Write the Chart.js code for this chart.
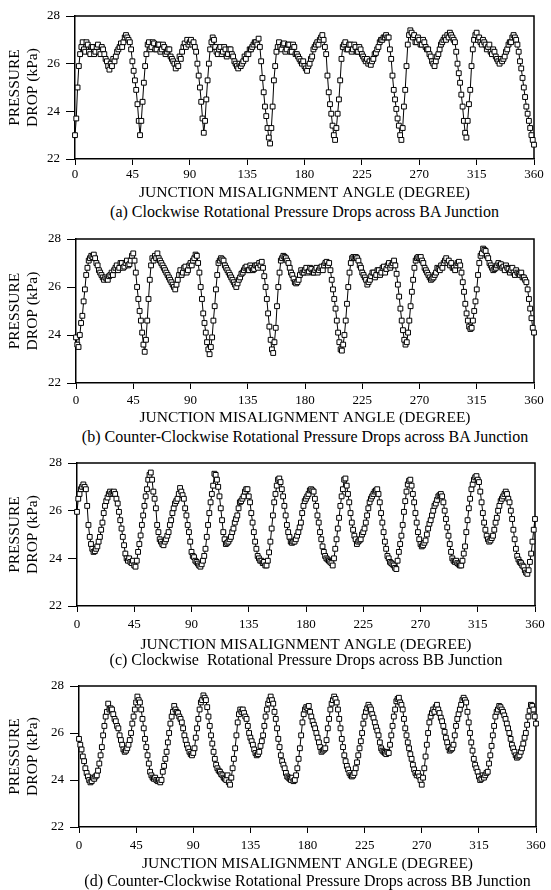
<!DOCTYPE html>
<html>
<head>
    <title>Rotational Pressure Drops across Junctions</title>
    <script src="https://cdn.jsdelivr.net/npm/chart.js"></script>
    <style>
        body {
            margin: 0;
            background: #fff;
            font-family: "Liberation Serif", "Times New Roman", serif;
        }
        .page {
            position: relative;
            width: 551px;
            height: 890px;
        }
        .page canvas {
            position: absolute;
            left: 0;
        }
        .caption {
            position: absolute;
            text-align: center;
            font-size: 16px;
            line-height: 18px;
            white-space: pre;
            color: #000;
        }
    </style>
</head>
<body>
    <div class="page" id="page"></div>

    <script>
        // misalignment angle, one reading per degree (0..360)
        const degrees = Array.from({ length: 361 }, (_, i) => i);

        // (a) clockwise, BA junction (kPa)
        const dropA = [
            23.0,23.7,25.0,25.9,26.4,26.7,26.9,26.6,26.5,26.9, 26.8,26.5,26.4,26.7,26.7,26.4,26.5,26.7,26.8,26.5,
            26.4,26.7,26.6,26.4,26.2,26.1,25.9,25.75,26.0,25.9, 26.2,26.1,26.3,26.5,26.6,26.7,26.85,26.7,26.9,27.1,
            27.2,27.1,27.0,26.9,26.6,26.1,25.7,25.3,24.9,24.3, 23.6,23.0,23.6,24.4,25.2,25.9,26.4,26.8,26.9,26.6,
            26.7,26.9,26.85,26.6,26.6,26.8,26.8,26.5,26.6,26.8, 26.7,26.4,26.5,26.6,26.6,26.3,26.2,26.1,26.0,25.8,
            26.0,25.9,26.3,26.2,26.5,26.7,26.85,26.7,27.0,26.8, 26.9,27.0,26.8,26.9,26.7,26.5,26.0,25.5,25.0,24.4,
            23.7,23.1,23.6,24.5,25.3,26.0,26.6,26.9,27.1,27.0, 26.7,26.5,26.4,26.6,26.7,26.4,26.5,26.7,26.6,26.3,
            26.4,26.6,26.6,26.4,26.3,26.1,26.0,25.9,25.8,26.0, 25.9,26.0,26.1,26.3,26.2,26.4,26.4,26.6,26.6,26.7,
            26.8,26.9,26.9,26.8,27.05,26.7,26.1,25.4,24.8,24.2, 23.8,23.3,22.9,22.65,23.3,24.2,25.3,25.9,26.5,26.7,
            26.9,26.7,26.6,26.8,26.85,26.5,26.6,26.8,26.8,26.5, 26.5,26.8,26.7,26.4,26.4,26.3,26.2,26.1,26.0,26.1,
            25.9,25.8,25.7,25.9,26.0,26.2,26.3,26.6,26.7,26.8, 26.9,26.8,27.0,27.1,27.2,27.0,26.7,26.4,25.5,24.8,
            24.3,23.9,23.4,23.0,22.8,23.3,23.9,24.5,25.3,26.2, 26.7,26.8,26.9,26.6,26.6,26.8,26.8,26.5,26.6,26.8,
            26.7,26.5,26.5,26.7,26.6,26.4,26.3,26.2,26.1,26.2, 26.0,26.1,25.95,26.1,26.2,26.4,26.45,26.6,26.7,26.9,
            27.0,27.0,27.1,27.1,27.2,27.1,27.1,26.6,26.2,25.5, 24.9,24.5,24.1,23.7,23.4,23.0,22.8,23.3,24.2,24.9,
            25.9,26.8,27.2,27.4,27.3,27.1,27.2,26.9,26.9,27.1, 27.0,26.8,26.8,27.0,26.9,26.7,26.6,26.6,26.4,26.3,
            26.1,26.0,25.9,26.1,26.3,26.4,26.6,26.8,26.9,27.0, 27.1,27.0,27.2,27.1,27.3,27.2,27.1,27.0,26.9,26.5,
            26.0,25.6,25.2,24.7,24.2,23.6,23.1,22.9,23.6,24.3, 24.9,25.9,26.6,27.0,27.2,27.3,27.0,27.1,26.9,26.8,
            27.0,26.9,26.8,26.6,26.7,26.8,26.5,26.4,26.6,26.5, 26.3,26.2,26.1,26.0,26.2,26.1,26.2,26.3,26.5,26.6,
            26.8,26.9,26.9,27.1,27.2,27.1,27.0,26.8,26.5,26.1, 25.8,25.4,25.0,24.6,24.2,23.9,23.6,23.3,23.0,22.8,
            22.6];

        // (b) counter-clockwise, BA junction (kPa)
        const dropB = [
            23.9,23.6,23.5,24.0,24.5,24.8,25.4,25.9,26.5,26.8, 27.1,27.2,27.3,27.25,27.35,27.2,27.0,26.9,26.7,26.6,
            26.5,26.4,26.3,26.4,26.35,26.3,26.45,26.5,26.6,26.5, 26.7,26.8,26.9,26.7,26.8,27.0,27.0,26.8,26.85,27.0,
            27.1,26.9,26.95,27.1,27.3,27.4,27.1,26.6,26.0,25.5, 25.0,24.6,24.1,23.6,23.3,23.8,24.6,25.5,26.3,26.9,
            27.2,27.1,27.3,27.2,27.4,27.2,27.1,27.0,26.9,26.8, 26.7,26.6,26.5,26.4,26.3,26.2,26.1,26.0,25.9,26.1,
            26.3,26.5,26.7,26.5,26.6,26.8,26.85,26.6,26.7,26.9, 27.0,26.9,27.1,27.2,27.35,27.3,27.0,26.6,26.0,25.5,
            24.9,24.5,24.1,23.7,23.4,23.2,23.5,23.9,24.6,25.2, 25.9,26.5,27.0,27.1,27.2,27.15,27.1,26.9,26.8,26.7,
            26.6,26.5,26.4,26.3,26.2,26.1,26.0,26.15,26.3,26.4, 26.55,26.6,26.7,26.8,26.85,26.7,26.7,26.9,26.8,26.7,
            26.75,26.9,26.9,26.8,27.0,26.9,27.05,26.8,26.45,26.0, 25.5,24.9,24.35,23.8,23.4,23.25,23.7,24.3,25.2,26.0,
            26.6,27.1,27.2,27.3,27.25,27.2,27.1,27.0,26.8,26.6, 26.5,26.35,26.2,26.15,26.2,26.3,26.5,26.7,26.6,26.6,
            26.7,26.8,26.6,26.65,26.8,26.75,26.6,26.6,26.7,26.8, 26.6,26.7,26.8,26.85,26.7,26.9,27.0,27.05,26.9,27.0,
            26.7,26.3,25.9,25.5,25.1,24.6,24.1,23.7,23.4,23.35, 23.6,24.0,24.6,25.3,26.0,26.6,27.0,27.2,27.25,27.2,
            27.25,27.2,27.1,26.9,26.8,26.6,26.5,26.4,26.3,26.1, 26.2,26.3,26.45,26.6,26.6,26.4,26.5,26.7,26.7,26.5,
            26.6,26.8,26.85,26.6,26.75,26.9,27.0,26.8,26.9,27.0, 27.1,26.9,26.55,26.1,25.6,25.1,24.6,24.2,23.8,23.6,
            23.7,24.1,24.6,25.2,25.8,26.3,26.8,27.1,27.2,27.25, 27.2,27.25,27.1,27.0,26.8,26.7,26.6,26.5,26.4,26.3,
            26.35,26.4,26.5,26.6,26.8,26.75,26.7,26.9,26.8,27.0, 27.1,27.2,27.0,27.1,26.9,27.0,26.8,26.8,26.7,26.9,
            27.0,27.05,26.9,26.6,26.2,25.8,25.3,24.9,24.6,24.35, 24.25,24.3,24.6,25.0,25.4,25.9,26.5,27.0,27.3,27.4,
            27.6,27.55,27.5,27.3,27.2,27.0,26.9,26.8,26.7,26.75, 26.8,26.9,27.0,26.9,26.95,26.8,26.85,26.7,26.9,26.8,
            26.75,26.6,26.7,26.8,26.6,26.5,26.7,26.6,26.55,26.5, 26.6,26.4,26.4,26.3,26.2,25.9,25.5,25.1,24.7,24.3,
            24.1];

        // (c) clockwise, BB junction (kPa)
        const dropC = [
            25.95,26.5,26.7,26.9,27.0,27.1,27.0,26.9,26.2,25.4, 24.9,24.6,24.4,24.27,24.3,24.4,24.5,24.7,24.9,25.2,
            25.5,25.9,26.2,26.4,26.55,26.7,26.8,26.7,26.75,26.8, 26.7,26.5,26.3,25.95,25.6,25.25,24.9,24.55,24.2,24.0,
            23.9,24.0,23.85,23.8,23.9,23.7,23.65,23.9,24.27,24.6, 24.96,25.4,25.8,26.2,26.6,26.9,27.3,27.5,27.6,27.3,
            26.8,26.5,26.1,25.4,25.1,24.8,24.7,24.6,24.55,24.7, 24.8,24.95,25.1,25.4,25.6,25.9,26.1,26.3,26.4,26.5,
            26.7,26.95,26.8,26.65,26.5,26.1,25.8,25.4,25.1,24.7, 24.27,24.1,24.05,23.9,23.85,23.78,23.7,23.65,23.75,23.9,
            24.1,24.4,24.9,25.4,25.9,26.35,26.7,27.05,27.55,27.5, 27.3,27.0,26.6,26.1,25.6,25.1,24.8,24.6,24.65,24.7,
            24.8,24.9,25.1,25.25,25.5,25.65,25.8,26.1,26.35,26.4, 26.5,26.6,26.8,26.9,26.9,26.6,26.35,25.9,25.5,25.1,
            24.7,24.4,24.1,24.0,23.9,23.9,23.8,23.85,23.7,23.7, 23.9,24.25,24.7,25.25,25.8,26.35,26.7,27.05,27.3,27.35,
            27.2,26.9,26.6,26.2,25.8,25.4,25.1,24.9,24.7,24.65, 24.7,24.7,24.8,24.95,25.1,25.3,25.5,25.9,26.2,26.4,
            26.5,26.6,26.7,26.85,26.9,26.85,26.8,26.5,26.2,25.8, 25.5,25.1,24.8,24.5,24.27,24.1,24.0,23.95,23.9,23.85,
            23.8,23.7,24.0,24.4,24.8,25.25,25.7,26.2,26.6,26.9, 27.3,27.35,27.05,26.7,26.35,25.9,25.5,25.2,24.95,24.8,
            24.6,24.7,24.75,24.8,25.0,25.1,25.25,25.5,25.8,26.1, 26.35,26.5,26.6,26.7,26.8,26.85,26.9,26.7,26.35,25.9,
            25.5,25.1,24.7,24.4,24.1,24.0,23.85,23.8,23.75,23.7, 23.6,23.55,23.9,24.27,24.6,24.95,25.4,25.95,26.4,26.8,
            27.1,27.25,27.3,27.05,26.7,26.35,25.9,25.5,25.1,24.8, 24.6,24.5,24.55,24.65,24.75,25.0,25.25,25.45,25.6,25.8,
            26.0,26.2,26.3,26.45,26.6,26.65,26.7,26.6,26.35,26.0, 25.65,25.3,24.95,24.6,24.27,24.0,23.9,23.85,23.9,23.8,
            23.75,23.7,23.7,23.9,24.2,24.5,25.1,25.6,26.1,26.5, 26.9,27.1,27.3,27.4,27.45,27.3,27.2,26.8,26.35,25.9,
            25.5,25.2,24.95,24.8,24.7,24.75,24.85,24.95,25.2,25.5, 25.7,26.0,26.2,26.4,26.5,26.6,26.7,26.8,26.7,26.5,
            26.35,26.0,25.65,25.2,24.8,24.4,24.1,23.95,23.85,23.8, 23.7,23.65,23.5,23.4,23.35,23.5,23.85,24.2,24.7,25.2,
            25.65];

        // (d) counter-clockwise, BB junction (kPa)
        const dropD = [
            25.75,25.5,25.3,25.0,24.8,24.5,24.3,24.15,24.0,23.9, 23.95,24.1,24.05,24.15,24.2,24.4,24.7,25.05,25.4,25.9,
            26.3,26.7,26.9,27.25,27.0,27.05,27.0,26.8,26.6,26.5, 26.3,26.2,25.9,25.7,25.5,25.3,25.2,25.25,25.35,25.5,
            25.7,26.0,26.4,26.7,27.0,27.3,27.55,27.4,27.3,27.0, 26.6,26.2,25.75,25.4,25.05,24.7,24.35,24.2,24.1,24.05,
            24.1,24.0,23.95,24.0,23.9,24.0,24.35,24.6,24.9,25.2, 25.6,26.0,26.4,26.7,26.9,27.15,27.0,26.9,26.85,26.7,
            26.6,26.45,26.2,25.9,25.7,25.5,25.35,25.2,25.1,25.05, 25.15,25.35,25.8,26.2,26.6,27.0,27.3,27.4,27.6,27.5,
            27.4,27.1,26.7,26.3,25.9,25.55,25.2,24.9,24.65,24.5, 24.4,24.35,24.25,24.2,24.1,24.05,24.0,24.2,23.9,23.8,
            24.1,24.5,24.9,25.35,25.9,26.45,26.8,27.0,26.9,27.0, 26.85,26.7,26.6,26.3,26.0,25.8,25.65,25.5,25.3,25.15,
            25.05,25.1,25.2,25.45,25.65,25.9,26.3,26.7,27.0,27.25, 27.4,27.55,27.4,27.25,26.9,26.6,26.2,25.75,25.4,25.05,
            24.8,24.65,24.5,24.3,24.15,24.1,24.05,24.0,24.1,23.95, 24.0,24.2,24.5,24.9,25.35,25.9,26.45,26.8,27.0,27.1,
            27.05,27.15,26.9,26.7,26.5,26.35,26.2,26.0,25.8,25.6, 25.4,25.2,25.25,25.3,25.35,25.7,26.2,26.6,27.0,27.25,
            27.4,27.55,27.45,27.3,27.0,26.6,26.2,25.75,25.4,25.05, 24.8,24.6,24.45,24.3,24.2,24.15,24.2,24.3,24.5,24.75,
            25.05,25.35,25.65,26.0,26.4,26.7,26.9,27.05,27.2,27.1, 27.0,26.8,26.65,26.45,26.25,26.1,25.9,25.6,25.35,25.25,
            25.2,25.15,25.1,25.2,25.15,25.5,25.9,26.3,26.7,27.0, 27.35,27.45,27.5,27.3,27.2,27.0,26.6,26.2,25.9,25.6,
            25.35,25.1,24.9,24.65,24.45,24.3,24.2,24.3,24.15,24.0, 23.8,24.1,24.5,25.0,25.5,26.0,26.45,26.7,26.85,27.0,
            26.9,27.1,27.2,27.0,26.85,26.65,26.5,26.3,26.05,25.8, 25.6,25.4,25.25,25.3,25.35,25.5,25.9,26.3,26.6,26.8,
            27.0,27.2,27.4,27.5,27.4,27.3,26.9,26.45,26.0,25.6, 25.25,24.9,24.65,24.5,24.35,24.15,24.0,24.05,24.2,24.1,
            24.2,24.3,24.35,24.7,25.05,25.45,25.9,26.3,26.7,26.9, 27.0,27.15,27.1,27.0,26.9,26.75,26.6,26.4,26.2,26.0,
            25.75,25.5,25.35,25.2,25.05,24.95,25.0,25.05,25.2,25.35, 25.55,25.8,26.0,26.35,26.7,26.95,27.2,27.15,27.0,26.7,
            26.4];

        const captions = [
            '(a) Clockwise Rotational Pressure Drops across BA Junction',
            '(b) Counter-Clockwise Rotational Pressure Drops across BA Junction',
            '(c) Clockwise  Rotational Pressure Drops across BB Junction',
            '(d) Counter-Clockwise Rotational Pressure Drops across BB Junction'
        ];
        const xTitle = 'JUNCTION MISALIGNMENT ANGLE (DEGREE)';
        const yTitle = ['PRESSURE', 'DROP (kPa)'];

        // where each panel sits on the page
        const panels = [
            { drops: dropA, top: 0,   plotTop: 16,  plotBottom: 159, left: 75, right: 534, tickPad: 2, titleOff: 34, capY: 212 },
            { drops: dropB, top: 220, plotTop: 239, plotBottom: 383, left: 76, right: 534, tickPad: 4, titleOff: 35, capY: 437 },
            { drops: dropC, top: 444, plotTop: 463, plotBottom: 606, left: 77, right: 535, tickPad: 5, titleOff: 39, capY: 660 },
            { drops: dropD, top: 666, plotTop: 686, plotBottom: 827, left: 79, right: 536, tickPad: 5, titleOff: 37, capY: 881 }
        ];

        const serif = '"Liberation Serif", "Times New Roman", serif';

        // top and right edges of the plot box
        const framePlugin = {
            id: 'frame',
            beforeDatasetsDraw(chart) {
                const { ctx, chartArea } = chart;
                ctx.save();
                ctx.strokeStyle = '#000';
                ctx.lineWidth = 1.5;
                ctx.beginPath();
                ctx.moveTo(chartArea.left, chartArea.top);
                ctx.lineTo(chartArea.right, chartArea.top);
                ctx.lineTo(chartArea.right, chartArea.bottom);
                ctx.stroke();
                ctx.restore();
            }
        };

        function makePanel(p, caption) {
            const page = document.getElementById('page');
            const titleFont = { family: serif, size: 15.5, lineHeight: 1.15 };
            const xHeight = Math.round(p.titleOff + 9);
            const h = p.plotBottom - p.top + xHeight;

            const canvas = document.createElement('canvas');
            canvas.width = 551;
            canvas.height = h;
            canvas.style.top = p.top + 'px';
            canvas.style.width = '551px';
            canvas.style.height = h + 'px';
            page.appendChild(canvas);

            // caption is centred under the plot box, like the x title
            const cap = document.createElement('div');
            cap.className = 'caption';
            cap.style.top = (p.capY - 9) + 'px';
            cap.style.left = (p.left - 60) + 'px';
            cap.style.width = (p.right - p.left + 120) + 'px';
            cap.textContent = caption;
            page.appendChild(cap);

            new Chart(canvas, {
                type: 'scatter',
                data: {
                    datasets: [{
                        data: degrees.map((a, i) => ({ x: a, y: p.drops[i] })),
                        showLine: true,
                        borderColor: '#000',
                        borderWidth: 1,
                        tension: 0,
                        pointStyle: 'rect',
                        pointRadius: 3.4,
                        pointBorderWidth: 1,
                        pointBackgroundColor: '#fff',
                        pointBorderColor: '#000',
                        clip: false
                    }]
                },
                options: {
                    responsive: false,
                    animation: false,
                    layout: {
                        padding: { left: 0, right: 551 - p.right, top: p.plotTop - p.top, bottom: 0 }
                    },
                    plugins: {
                        legend: { display: false },
                        tooltip: { enabled: false }
                    },
                    scales: {
                        x: {
                            type: 'linear',
                            min: 0,
                            max: 360,
                            ticks: { stepSize: 45, color: '#000', font: { family: serif, size: 13 }, padding: p.tickPad, maxRotation: 0 },
                            grid: { drawOnChartArea: false, tickLength: 6, color: '#000' },
                            border: { color: '#000', width: 1.5 },
                            title: { display: true, text: xTitle, color: '#000', font: titleFont, padding: 0 },
                            afterFit(scale) { scale.height = xHeight; }
                        },
                        y: {
                            min: 22,
                            max: 28,
                            ticks: { stepSize: 2, color: '#000', font: { family: serif, size: 13 }, padding: 6 },
                            grid: { drawOnChartArea: false, tickLength: 9, color: '#000' },
                            border: { color: '#000', width: 1.5 },
                            title: { display: true, text: yTitle, color: '#000', font: titleFont, padding: { top: 6, bottom: 0 } },
                            afterFit(scale) { scale.width = p.left; }
                        }
                    }
                },
                plugins: [framePlugin]
            });
        }

        panels.forEach((p, i) => makePanel(p, captions[i]));
    </script>
</body>
</html>
